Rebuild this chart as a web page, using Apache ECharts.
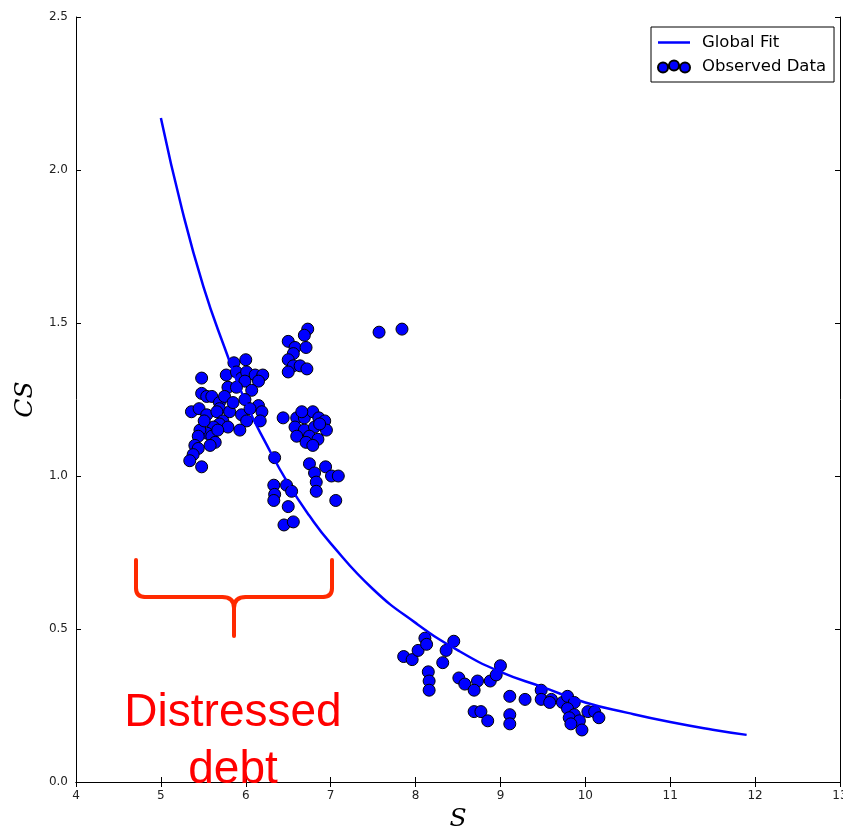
<!DOCTYPE html>
<html>
<head>
<meta charset="utf-8">
<script src="https://cdn.jsdelivr.net/npm/echarts@6/dist/echarts.min.js"></script>
<style>
html,body{margin:0;padding:0;background:#fff;}
#chart{width:843px;height:830px;}
</style>
</head>
<body>
<div id="chart"></div>
<script>
// Observed data (S, CS)
const obsS = [5.48,5.86,6.00,5.77,5.89,5.95,6.01,6.11,6.20,6.15,5.99,5.79,5.89,6.07,5.99,5.48,5.54,5.60,5.69,5.69,5.81,5.36,5.45,5.54,5.66,5.73,5.69,5.79,5.62,5.54,5.46,5.44,5.60,5.64,5.40,5.58,5.44,5.38,5.34,5.48,5.95,6.01,5.93,6.15,6.19,6.17,6.05,6.34,5.75,5.67,5.85,5.51,
6.73,6.69,6.50,6.58,6.71,6.56,6.50,6.56,6.64,6.50,6.72,
6.44,6.60,6.69,6.79,6.86,6.93,6.58,6.69,6.81,6.95,6.60,6.75,6.85,6.71,6.79,6.66,6.87,
6.75,6.94,6.81,7.01,7.09,6.83,6.83,7.06,
6.33,6.48,6.34,6.54,6.33,6.50,6.45,6.56,
7.57,7.84,
7.86,7.96,8.03,8.11,8.13,8.15,8.16,8.16,8.32,8.36,8.45,8.51,8.58,8.73,8.69,8.88,8.95,9.00,8.69,8.77,8.85,9.11,9.11,9.11,9.29,9.48,9.48,9.60,9.58,9.73,9.79,9.87,9.79,9.87,9.81,9.93,9.83,9.96,10.03,10.11,10.16];
const obsCS = [1.32,1.37,1.38,1.33,1.34,1.32,1.34,1.33,1.33,1.31,1.31,1.29,1.29,1.28,1.25,1.27,1.26,1.26,1.24,1.22,1.21,1.21,1.22,1.20,1.21,1.18,1.17,1.16,1.16,1.14,1.15,1.13,1.13,1.11,1.10,1.10,1.09,1.07,1.05,1.03,1.20,1.18,1.15,1.23,1.21,1.18,1.22,1.06,1.26,1.15,1.24,1.18,
1.48,1.46,1.44,1.42,1.42,1.40,1.38,1.36,1.36,1.34,1.35,
1.19,1.19,1.19,1.21,1.19,1.18,1.16,1.15,1.16,1.15,1.13,1.13,1.12,1.11,1.10,1.21,1.17,
1.04,1.03,1.01,1.00,1.00,0.98,0.95,0.92,
0.97,0.97,0.94,0.95,0.92,0.90,0.84,0.85,
1.47,1.48,
0.41,0.40,0.43,0.47,0.45,0.36,0.33,0.30,0.39,0.43,0.46,0.34,0.32,0.33,0.30,0.33,0.35,0.38,0.23,0.23,0.20,0.28,0.22,0.19,0.27,0.30,0.27,0.27,0.26,0.26,0.28,0.26,0.24,0.22,0.21,0.20,0.19,0.17,0.23,0.23,0.21];

// Global fit curve
const fitS  = [5.0,5.25,5.5,5.75,6.0,6.25,6.5,6.75,7.0,7.5,8.0,8.5,9.0,9.5,10.0,10.5,11.0,11.5,11.9];
const fitCS = [2.17,1.87,1.62,1.42,1.24,1.10,0.975,0.87,0.78,0.63,0.52,0.43,0.36,0.31,0.26,0.226,0.196,0.171,0.154];

const xTicks = [4,5,6,7,8,9,10,11,12,13];
const yTicks = ['0.0','0.5','1.0','1.5','2.0','2.5'];

const seriesNames = ['Global Fit','Observed Data'];
const annotationText = ['Distressed','debt'];

const chart = echarts.init(document.getElementById('chart'));

const tickFont = {fontFamily:'DejaVu Sans', fontSize:12, color:'#222'};
const axisLineStyle = {lineStyle:{color:'#000', width:1}};

const threeDots = 'path://M0,7a5,5 0 1,0 10,0a5,5 0 1,0 -10,0z M11,5a5,5 0 1,0 10,0a5,5 0 1,0 -10,0z M22,7a5,5 0 1,0 10,0a5,5 0 1,0 -10,0z';
const lineIcon = 'path://M0,5.8h32v2.4h-32z M0,0h0.01v0.01h-0.01z M32,14h-0.01v-0.01h0.01z';

const bracketStyle = {stroke:'#ff2a00', lineWidth:4, lineCap:'round', fill:null};
function seg(x1,y1,x2,y2){return {type:'line', shape:{x1:x1,y1:y1,x2:x2,y2:y2}, style:bracketStyle, z:10};}
function crv(x1,y1,cx,cy,x2,y2){return {type:'bezierCurve', shape:{x1:x1,y1:y1,cpx1:cx,cpy1:cy,x2:x2,y2:y2}, style:bracketStyle, z:10};}

chart.setOption({
  animation:false,
  backgroundColor:'#fff',
  grid:{left:76, right:3, top:17, bottom:48, containLabel:false, outerBoundsMode:'none'},
  legend:{
    orient:'vertical', left:651, top:27,
    padding:[7,8,7,6],
    itemGap:7, itemWidth:32, itemHeight:14,
    backgroundColor:'#fff', borderColor:'#000', borderWidth:1, borderRadius:0,
    textStyle:{fontFamily:'DejaVu Sans', fontSize:16.5, color:'#000', padding:[0,0,0,7]},
    data:[{name:seriesNames[0], icon:lineIcon},{name:seriesNames[1], icon:threeDots}]
  },
  xAxis:[{
    type:'value', min:4, max:13, interval:1,
    axisLine:axisLineStyle,
    axisTick:{inside:true, length:5, lineStyle:{color:'#000'}},
    axisLabel:Object.assign({margin:8, formatter:function(v){return xTicks.indexOf(v)>=0?String(v):'';}}, tickFont),
    splitLine:{show:false},
    name:'S', nameLocation:'middle', nameGap:22,
    nameTextStyle:{fontFamily:'DejaVu Serif', fontStyle:'italic', fontSize:25, color:'#000', verticalAlign:'top'}
  },{
    type:'value', min:4, max:13, interval:1, position:'top',
    axisLine:axisLineStyle,
    axisTick:{inside:true, length:5, lineStyle:{color:'#000'}},
    axisLabel:{show:false}, splitLine:{show:false}
  }],
  yAxis:[{
    type:'value', min:0, max:2.5, interval:0.5,
    axisLine:axisLineStyle,
    axisTick:{inside:true, length:5, lineStyle:{color:'#000'}},
    axisLabel:Object.assign({margin:8, formatter:function(v){return yTicks[Math.round(v/0.5)];}}, tickFont),
    splitLine:{show:false},
    name:'CS', nameLocation:'middle', nameGap:29, nameRotate:90,
    nameTextStyle:{fontFamily:'DejaVu Serif', fontStyle:'italic', fontSize:25, color:'#000'}
  },{
    type:'value', min:0, max:2.5, interval:0.5, position:'right',
    axisLine:axisLineStyle,
    axisTick:{inside:true, length:5, lineStyle:{color:'#000'}},
    axisLabel:{show:false}, splitLine:{show:false}
  }],
  series:[{
    name:seriesNames[0], type:'line', smooth:true, symbol:'none', showSymbol:false, z:5,
    lineStyle:{color:'#0000ff', width:2.5},
    itemStyle:{color:'#0000ff'},
    data:fitS.map((s,i)=>[s,fitCS[i]])
  },{
    name:seriesNames[1], type:'scatter', symbol:'circle', symbolSize:12, z:3,
    itemStyle:{color:'#0000ff', borderColor:'#000', borderWidth:1, opacity:1},
    data:obsS.map((s,i)=>[s,obsCS[i]])
  }],
  graphic:[
    seg(136,560,136,588),
    crv(136,588,136,597,145,597),
    seg(145,597,222,597),
    crv(222,597,234,597,234,608),
    seg(234,608,234,636),
    crv(246,597,234,597,234,608),
    seg(246,597,323,597),
    crv(323,597,332,597,332,588),
    seg(332,588,332,560),
    {type:'text', z:10,
     style:{text:annotationText[0], x:233, y:690, align:'center', verticalAlign:'alphabetic', fill:'#ff0000', font:'46px "Liberation Sans", Arial, sans-serif'}},
    {type:'text', z:10,
     style:{text:annotationText[1], x:233, y:747, align:'center', verticalAlign:'alphabetic', fill:'#ff0000', font:'46px "Liberation Sans", Arial, sans-serif'}}
  ]
});
</script>
</body>
</html>
